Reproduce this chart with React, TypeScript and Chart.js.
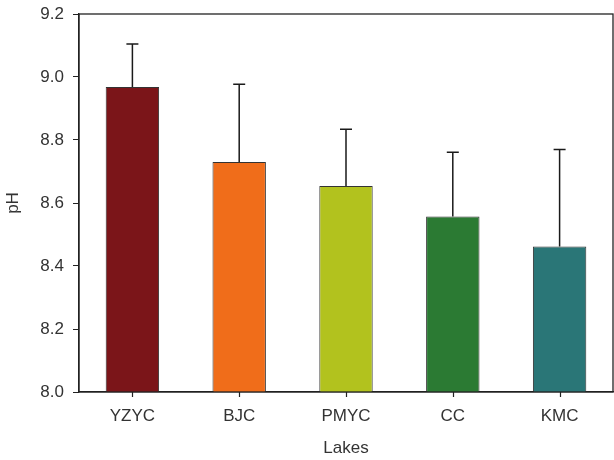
import React, { useEffect, useRef } from "react";
import { Chart, registerables } from "chart.js";

Chart.register(...registerables);

const lakes = ["YZYC", "BJC", "PMYC", "CC", "KMC"];
const meanPH = [8.968, 8.730, 8.654, 8.557, 8.462];
const sdPH = [0.137, 0.247, 0.180, 0.204, 0.308];
const barColors = ["#7b1519", "#f06d1a", "#b2c21e", "#2b7a33", "#2a7677"];
const yTicks = [8.0, 8.2, 8.4, 8.6, 8.8, 9.0, 9.2];

const FONT = "'Liberation Sans', Arial, sans-serif";

// Upper error whiskers with a short cap, drawn over the bars
const errorBars = {
  id: "errorBars",
  afterDatasetsDraw(chart: any) {
    const { ctx } = chart;
    const meta = chart.getDatasetMeta(0);
    const yScale = chart.scales.y;
    ctx.save();
    ctx.strokeStyle = "#1a1a1a";
    ctx.lineWidth = 1.5;
    meta.data.forEach((bar: any, i: number) => {
      const x = bar.x;
      const yTop = yScale.getPixelForValue(meanPH[i] + sdPH[i]);
      const yBase = yScale.getPixelForValue(meanPH[i]);
      ctx.beginPath();
      ctx.moveTo(x, yBase);
      ctx.lineTo(x, yTop);
      ctx.moveTo(x - 6, yTop);
      ctx.lineTo(x + 6, yTop);
      ctx.stroke();
    });
    ctx.restore();
  },
};

// Closed frame around the plot area, plus category tick marks under the bars
const frame = {
  id: "frame",
  afterDraw(chart: any) {
    const { ctx, chartArea } = chart;
    const xScale = chart.scales.x;
    ctx.save();
    ctx.strokeStyle = "#222";
    ctx.lineWidth = 1.3;
    ctx.strokeRect(chartArea.left, chartArea.top, chartArea.right - chartArea.left, chartArea.bottom - chartArea.top);
    ctx.lineWidth = 1.2;
    ctx.beginPath();
    lakes.forEach((_, i) => {
      const x = Math.round(xScale.getPixelForValue(i)) + 0.5;
      ctx.moveTo(x, chartArea.bottom);
      ctx.lineTo(x, chartArea.bottom + 5);
    });
    ctx.stroke();
    ctx.restore();
  },
};

export default function App() {
  const ref = useRef<HTMLCanvasElement>(null);

  useEffect(() => {
    if (!ref.current) return;
    const chart = new Chart(ref.current, {
      type: "bar",
      data: {
        labels: lakes,
        datasets: [
          {
            data: meanPH,
            backgroundColor: barColors,
            borderColor: "#333",
            borderWidth: 1,
            barPercentage: 0.5,
            categoryPercentage: 1,
          },
        ],
      },
      options: {
        responsive: false,
        animation: false,
        layout: { padding: { top: 14, right: 1, left: 0, bottom: 0 } },
        plugins: { legend: { display: false }, tooltip: { enabled: false } },
        scales: {
          x: {
            grid: { display: false },
            border: { display: true, color: "#222", width: 1.3 },
            ticks: { color: "#333", font: { family: FONT, size: 17 }, padding: 6 },
            title: { display: true, text: "Lakes", color: "#333", font: { family: FONT, size: 17 }, padding: { top: 4, bottom: 1 } },
            afterFit: (s: any) => {
              s.height = 68;
              s.paddingLeft = 0;
              s.paddingRight = 0;
            },
          },
          y: {
            min: 8,
            max: 9.2,
            afterBuildTicks: (s: any) => { s.ticks = yTicks.map((v) => ({ value: v })); },
            grid: { display: true, drawOnChartArea: false, tickLength: 6, color: "#222" },
            border: { display: true, color: "#222", width: 1.3 },
            ticks: {
              color: "#333",
              font: { family: FONT, size: 17 },
              padding: 9,
              callback: (v: any) => Number(v).toFixed(1),
            },
            title: { display: true, text: "pH", color: "#333", font: { family: FONT, size: 17 }, padding: { top: 3, bottom: 4 } },
            afterFit: (s: any) => {
              s.width = 79;
              s.paddingTop = 0;
              s.paddingBottom = 0;
            },
          },
        },
      },
      plugins: [errorBars, frame],
    });
    return () => chart.destroy();
  }, []);

  return (
    <div style={{ position: "fixed", left: 0, top: 0, width: 614, height: 460, background: "#fff" }}>
      <canvas ref={ref} width={614} height={460} style={{ display: "block" }} />
    </div>
  );
}
